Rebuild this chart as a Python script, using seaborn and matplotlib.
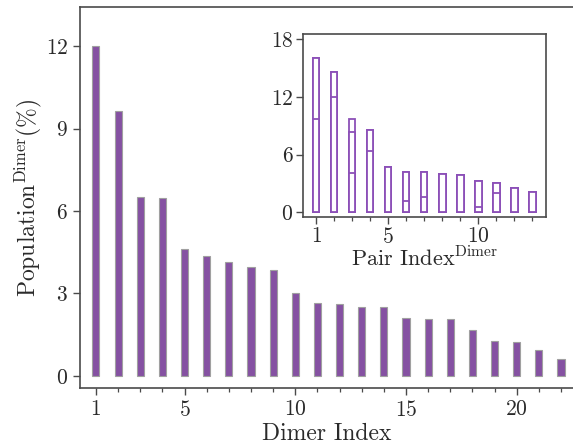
import numpy as np
import pandas as pd
import matplotlib
matplotlib.use("Agg")
import matplotlib.pyplot as plt
from matplotlib.ticker import MultipleLocator, FixedLocator
import seaborn as sns

# ---- data ----
dimer_index = list(range(1, 23))
dimer_population = [12.0, 9.64, 6.5, 6.47, 4.62, 4.36, 4.15, 3.96, 3.85, 3.03,
                    2.64, 2.60, 2.52, 2.51, 2.11, 2.08, 2.07, 1.67, 1.27, 1.22,
                    0.93, 0.62]

pair_index = list(range(1, 14))
pair_seg1 = [9.68, 11.97, 4.13, 6.42, 4.68, 1.18, 1.63, 4.02, 3.92, 0.59, 2.05, 2.57, 2.15]
pair_seg2 = [6.41, 2.67, 4.26, 2.15, 0.0, 3.05, 2.53, 0.0, 0.0, 2.67, 0.97, 0.0, 0.0]
pair_seg3 = [0.0, 0.0, 1.36, 0.0, 0.0, 0.0, 0.0, 0.0, 0.0, 0.0, 0.0, 0.0, 0.0]

main_xticks = [1, 5, 10, 15, 20]
main_yticks = [0, 3, 6, 9, 12]
inset_xticks = [1, 5, 10]
inset_yticks = [0, 6, 12, 18]

# ---- style ----
sns.set_theme(style="ticks")
plt.rcParams.update({
    "font.family": ["serif"],
    "font.serif": ["cmr10", "DejaVu Serif"],
    "mathtext.fontset": "cm",
    "axes.formatter.use_mathtext": True,
    "axes.edgecolor": "#4a4a4a",
    "axes.linewidth": 1.2,
    "xtick.color": "#4a4a4a",
    "ytick.color": "#4a4a4a",
    "xtick.labelcolor": "#2a2a2a",
    "ytick.labelcolor": "#2a2a2a",
    "text.color": "#2a2a2a",
    "axes.labelcolor": "#2a2a2a",
})

purple = "#8551a2"
edge_purple = "#8c50b8"

fig = plt.figure(figsize=(5.73, 4.46), dpi=100)
ax = fig.add_axes([80 / 573, 1 - 388 / 446, 1 - 80 / 573, (388 - 7) / 446])

df = pd.DataFrame({"idx": dimer_index, "pop": dimer_population})
sns.barplot(data=df, x="idx", y="pop", native_scale=True, width=0.32,
            color=purple, saturation=1, edgecolor="#a0a0a0", linewidth=0.8, ax=ax)

ax.set_xlim(0.28, 22.54)
ax.set_ylim(-0.44, 13.42)
ax.xaxis.set_major_locator(FixedLocator(main_xticks))
ax.xaxis.set_minor_locator(MultipleLocator(1))
ax.yaxis.set_major_locator(FixedLocator(main_yticks))
ax.tick_params(axis="both", which="major", length=5, width=1.0, labelsize=15.5, direction="out")
ax.tick_params(axis="x", which="minor", length=3, width=0.9)
ax.spines["right"].set_visible(False)
ax.set_xlabel("Dimer Index", fontsize=17, labelpad=2)
ax.set_ylabel(r"Population$^{\mathrm{Dimer}}$(%)", fontsize=17, labelpad=1)

# ---- inset ----
ins = fig.add_axes([303 / 573, 1 - 217 / 446, (546 - 303) / 573, (217 - 34) / 446])
cum1 = np.array(pair_seg1)
cum2 = cum1 + np.array(pair_seg2)
cum3 = cum2 + np.array(pair_seg3)
for level in [cum3, cum2, cum1]:
    d = pd.DataFrame({"idx": pair_index, "v": level})
    sns.barplot(data=d, x="idx", y="v", native_scale=True, width=0.37,
                color="white", saturation=1, edgecolor=edge_purple, linewidth=1.3, ax=ins)
ins.set_xlim(0.28, 13.76)
ins.set_ylim(-0.49, 18.55)
ins.xaxis.set_major_locator(FixedLocator(inset_xticks))
ins.xaxis.set_minor_locator(MultipleLocator(1))
ins.yaxis.set_major_locator(FixedLocator(inset_yticks))
ins.tick_params(axis="both", which="major", length=5, width=1.0, labelsize=15.5, direction="out", pad=2)
ins.tick_params(axis="x", which="minor", length=3, width=0.9)
ins.set_xlabel(r"Pair Index$^{\mathrm{Dimer}}$", fontsize=16, labelpad=0)
ins.set_ylabel("")

fig.savefig("out.png", dpi=100)
